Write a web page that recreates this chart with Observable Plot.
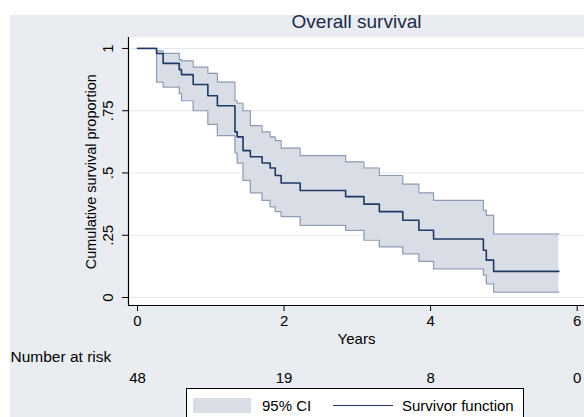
<!DOCTYPE html>
<html><head><meta charset="utf-8">
<script src="https://cdn.jsdelivr.net/npm/d3@7"></script>
<script src="https://cdn.jsdelivr.net/npm/@observablehq/plot@0.6"></script>
<style>
body{margin:0;background:#fff;}
#wrap{position:relative;width:584px;height:417px;overflow:hidden;background:#fff;font-family:"Liberation Sans",Arial,sans-serif;}
#bg{position:absolute;left:10px;top:15px;right:0;bottom:0;background:#e9edf1;}
#chart{position:absolute;left:0;top:0;}
#legend{position:absolute;left:186px;top:388px;width:338px;height:40px;background:#fff;border:1px solid #000;box-sizing:border-box;}
#legend .sw{position:absolute;left:6px;top:9px;width:58px;height:15px;background:#d8dde6;}
#legend .t1{position:absolute;left:75px;top:8px;font-size:15px;line-height:17px;color:#000;}
#legend .ln{position:absolute;left:146px;top:16px;width:60px;height:0;border-top:1.3px solid #1f3864;}
#legend .t2{position:absolute;left:215px;top:8px;font-size:15px;line-height:17px;color:#000;}
</style></head>
<body>
<div id="wrap"><div id="bg"></div><div id="chart"></div>
<div id="legend"><div class="sw"></div><div class="t1">95% CI</div><div class="ln"></div><div class="t2">Survivor function</div></div>
</div>
<script>
const times    = [0, 0.26, 0.35, 0.57, 0.60, 0.76, 0.96, 1.09, 1.33, 1.36, 1.44, 1.54, 1.70, 1.81, 1.88, 1.96, 2.22, 2.84, 3.09, 3.30, 3.62, 3.84, 4.04, 4.72, 4.76, 4.86, 5.75];
const survival = [1, 0.98, 0.94, 0.915, 0.895, 0.855, 0.81, 0.77, 0.665, 0.645, 0.59, 0.565, 0.54, 0.52, 0.49, 0.46, 0.43, 0.405, 0.375, 0.345, 0.31, 0.27, 0.235, 0.19, 0.15, 0.105, 0.105];
const upper    = [1, 0.99, 0.98, 0.955, 0.95, 0.925, 0.90, 0.865, 0.79, 0.78, 0.75, 0.69, 0.665, 0.645, 0.63, 0.60, 0.57, 0.545, 0.52, 0.49, 0.455, 0.42, 0.39, 0.35, 0.33, 0.255, 0.255];
const lower    = [1, 0.865, 0.845, 0.82, 0.79, 0.75, 0.695, 0.65, 0.58, 0.54, 0.47, 0.42, 0.39, 0.364, 0.345, 0.325, 0.29, 0.27, 0.23, 0.203, 0.175, 0.145, 0.115, 0.09, 0.055, 0.022, 0.022];

const xTicks = [0, 2, 4, 6];
const yTicks = [0, 0.25, 0.5, 0.75, 1];
const yTickLabels = ["0", ".25", ".5", ".75", "1"];
const atRiskTimes = [0, 2, 4, 6];
const atRisk = [48, 19, 8, 0];

const xDomain = [-0.123, 6.10];
const yDomain = [-0.032, 1.044];

const data = times.map((t, i) => ({t, s: survival[i], u: upper[i], l: lower[i]}));
const yt = yTicks.map((v, i) => ({v, label: yTickLabels[i]}));
const ar = atRiskTimes.map((t, i) => ({t, n: atRisk[i]}));

const font = "Liberation Sans, Arial, sans-serif";
const chart = Plot.plot({
  width: 584, height: 417,
  marginLeft: 128, marginRight: 0, marginTop: 37, marginBottom: 112,
  style: {background: "transparent", fontFamily: font, overflow: "visible"},
  x: {domain: xDomain, axis: null},
  y: {domain: yDomain, axis: null},
  marks: [
    Plot.frame({fill: "white", stroke: "none"}),
    Plot.gridY(yTicks, {stroke: "#e2e9f0", strokeOpacity: 1, strokeWidth: 1}),
    Plot.areaY(data, {x: "t", y1: "l", y2: "u", curve: "step-after", fill: "#d8dde6"}),
    Plot.line(data, {x: "t", y: "u", curve: "step-after", stroke: "#8e9cb5", strokeWidth: 1.2}),
    Plot.line(data, {x: "t", y: "l", curve: "step-after", stroke: "#8e9cb5", strokeWidth: 1.2}),
    Plot.line(data, {x: "t", y: "s", curve: "step-after", stroke: "#1f3864", strokeWidth: 1.6}),
    Plot.ruleX([xDomain[0]], {stroke: "#000", strokeWidth: 1.2}),
    Plot.ruleY([yDomain[0]], {stroke: "#000", strokeWidth: 1.2}),
    Plot.axisX(xTicks, {tickSize: 6, tickPadding: 4, fontSize: 15, label: null, tickFormat: d => String(d), color: "#000"}),
    Plot.axisY(yTicks, {tickSize: 6, tickFormat: () => "", label: null}),
    Plot.text(yt, {y: "v", text: "label", frameAnchor: "left", dx: -20, rotate: -90, textAnchor: "middle", lineAnchor: "middle", fontSize: 15, fill: "#000"}),
    Plot.text(["Cumulative survival proportion"], {y: 0.505, frameAnchor: "left", dx: -37, rotate: -90, textAnchor: "middle", lineAnchor: "middle", fontSize: 14.5, fill: "#000"}),
    Plot.text(["Years"], {x: (xDomain[0] + xDomain[1]) / 2, frameAnchor: "bottom", dy: 34, lineAnchor: "middle", fontSize: 15, fill: "#000"}),
    Plot.text(["Overall survival"], {frameAnchor: "top", dy: -16, lineAnchor: "middle", fontSize: 19, fill: "#1c2a48"}),
    Plot.text(["Number at risk"], {frameAnchor: "bottom-left", dx: -118, dy: 52, textAnchor: "start", lineAnchor: "middle", fontSize: 15.5, fill: "#000"}),
    Plot.text(ar, {x: "t", text: d => String(d.n), frameAnchor: "bottom", dy: 73, lineAnchor: "middle", fontSize: 15, fill: "#000"})
  ]
});
document.getElementById("chart").appendChild(chart);
</script>
</body></html>
